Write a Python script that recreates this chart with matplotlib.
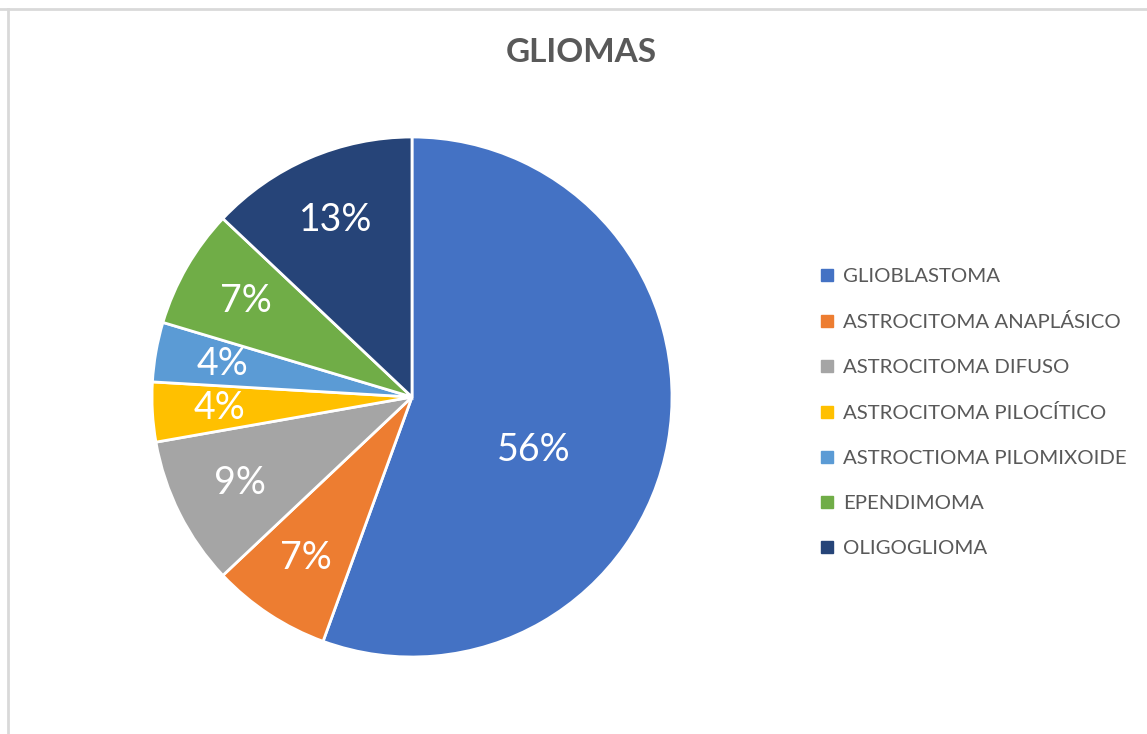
import matplotlib
matplotlib.use("Agg")
import matplotlib.pyplot as plt
from matplotlib.lines import Line2D

# glioma cases by type (counts; shares rounded to whole percent)
LABELS = [
    "GLIOBLASTOMA",
    "ASTROCITOMA ANAPLÁSICO",
    "ASTROCITOMA DIFUSO",
    "ASTROCITOMA PILOCÍTICO",
    "ASTROCTIOMA PILOMIXOIDE",
    "EPENDIMOMA",
    "OLIGOGLIOMA",
]
COUNTS = [30, 4, 5, 2, 2, 4, 7]
COLORS = ["#4472C4", "#ED7D31", "#A5A5A5", "#FFC000", "#5B9BD5", "#70AD47", "#264478"]

FONT = "Lato"
GREY = "#595959"

W, H = 1147, 734
fig = plt.figure(figsize=(W / 100, H / 100), dpi=100)

# frame lines of the chart area
fig.add_artist(Line2D([0, 1], [1 - 9 / H, 1 - 9 / H], color="#d9d9d9", lw=2))
fig.add_artist(Line2D([8 / W, 8 / W], [0, 1 - 9 / H], color="#d9d9d9", lw=2))

# pie: centre (412, 397) px, radius 260 px
cx, cy, r = 412, 397, 260
ax = fig.add_axes([(cx - r) / W, (H - cy - r) / H, 2 * r / W, 2 * r / H])
wedges, texts, autotexts = ax.pie(
    COUNTS, colors=COLORS, startangle=90, counterclock=False,
    autopct="%.0f%%", pctdistance=0.74, radius=1,
    wedgeprops={"edgecolor": "white", "linewidth": 2},
    textprops={"color": "white", "fontsize": 27, "family": FONT},
)
# the big slice carries its label nearer the centre
x, y = autotexts[0].get_position()
autotexts[0].set_position((x * 0.64, y * 0.64 - 0.12))
ax.set_xlim(-1, 1)
ax.set_ylim(-1, 1)

fig.text(581 / W, 1 - 53 / H, "GLIOMAS", ha="center", va="center",
         fontsize=24, fontweight="bold", color=GREY, family=FONT)

handles = [plt.Rectangle((0, 0), 1, 1, color=c) for c in COLORS]
leg = fig.legend(handles, LABELS, loc="upper left",
                 bbox_to_anchor=(803 / W, 1 - 250 / H), frameon=False,
                 handlelength=0.55, handleheight=0.55, handletextpad=0.5,
                 labelspacing=1.37, prop={"family": FONT, "size": 14.7})
for t in leg.get_texts():
    t.set_color(GREY)

fig.savefig("out.png", dpi=100)
